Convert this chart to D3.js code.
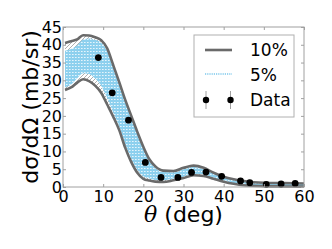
<!DOCTYPE html>
<html>
<head>
<meta charset="utf-8">
<script src="https://cdn.jsdelivr.net/npm/d3@7"></script>
<style>
  body { margin: 0; background: #fff; }
  svg { display: block; font-family: "DejaVu Sans", sans-serif; }
</style>
</head>
<body>
<div id="chart"></div>
<script>
// angle grid for the bands (deg)
const thetaGrid = [0.5, 2, 3.5, 5, 6.5, 8, 9.5, 11, 12.5, 14, 15.5, 17, 18.5, 20, 21.5, 23, 25, 27.5, 30, 32.5, 35, 37.5, 40, 42.5, 45, 50, 55, 60];

// 10% band edges
const upper10 = [40.5, 41.0, 41.5, 42.7, 42.6, 42.1, 41.3, 39.0, 34.3, 29.5, 24.5, 20.0, 15.5, 11.3, 7.8, 5.8, 4.6, 4.5, 5.4, 6.0, 5.4, 4.0, 2.9, 2.2, 1.7, 1.2, 1.1, 1.0];
const lower10 = [27.3, 28.0, 29.3, 30.3, 29.8, 28.5, 26.5, 23.2, 19.8, 16.0, 11.0, 7.0, 4.0, 2.3, 1.8, 1.5, 1.4, 1.9, 2.5, 3.3, 3.1, 2.3, 1.5, 0.9, 0.5, 0.25, 0.15, 0.1];

// 5% band edges
const upper5 = [38.3, 38.8, 39.8, 41.5, 41.8, 41.4, 40.6, 38.3, 33.7, 28.9, 24.0, 19.5, 15.0, 10.8, 7.3, 5.3, 4.2, 4.1, 5.0, 5.6, 5.0, 3.7, 2.7, 2.0, 1.5, 1.1, 1.0, 0.9];
const lower5 = [28.0, 28.8, 30.5, 32.0, 31.8, 30.5, 28.5, 25.0, 21.0, 17.0, 12.0, 8.0, 4.8, 3.0, 2.4, 2.0, 1.9, 2.4, 2.9, 3.7, 3.5, 2.6, 1.8, 1.1, 0.7, 0.35, 0.25, 0.2];

// measured points
const dataTheta = [8.8, 12.25, 16.3, 20.5, 24.4, 28.6, 32, 35.6, 39.5, 44.2, 46.5, 50.6, 54.3, 57.8];
const dataSigma = [36.4, 26.5, 18.8, 6.9, 2.7, 2.7, 4.1, 4.2, 3.0, 1.7, 1.2, 0.75, 0.85, 1.0];

const xTicks = [0, 10, 20, 30, 40, 50, 60];
const yTicks = [0, 5, 10, 15, 20, 25, 30, 35, 40, 45];
const legendLabels = ["10%", "5%", "Data"];

const width = 332, height = 249;
const margin = {top: 27, right: 28, bottom: 62, left: 63};
const plotW = width - margin.left - margin.right;
const plotH = height - margin.top - margin.bottom;

const svg = d3.select("#chart").append("svg")
    .attr("width", width)
    .attr("height", height);

// patterns
const defs = svg.append("defs");
let hatch = defs.append("pattern")
    .attr("id", "hatch")
    .attr("patternUnits", "userSpaceOnUse")
    .attr("width", 4).attr("height", 4);
hatch.append("rect").attr("width", 4).attr("height", 4).attr("fill", "#fff");
hatch.append("path")
    .attr("d", "M-1,1 l2,-2 M0,4 l4,-4 M3,5 l2,-2")
    .attr("stroke", "#9a9a9a")
    .attr("stroke-width", 0.8);

let dots = defs.append("pattern")
    .attr("id", "dots")
    .attr("patternUnits", "userSpaceOnUse")
    .attr("width", 3).attr("height", 3);
dots.append("rect").attr("width", 3).attr("height", 3).attr("fill", "#8dd0ee");
dots.append("rect").attr("x", 0).attr("y", 0).attr("width", 1.6).attr("height", 1)
    .attr("fill", "#e6f5fc");

const g = svg.append("g")
    .attr("transform", "translate(" + margin.left + "," + margin.top + ")");

const x = d3.scaleLinear().domain([0, 60]).range([0, plotW]);
const y = d3.scaleLinear().domain([0, 45]).range([plotH, 0]);

const band = thetaGrid.map((t, i) => ({
    t: t, u10: upper10[i], l10: lower10[i], u5: upper5[i], l5: lower5[i]
}));

const curve = d3.curveMonotoneX;

g.append("path")
    .datum(band)
    .attr("fill", "url(#hatch)")
    .attr("d", d3.area().curve(curve)
        .x(d => x(d.t)).y0(d => y(d.l10)).y1(d => y(d.u10)));

g.append("path")
    .datum(band)
    .attr("fill", "url(#dots)")
    .attr("d", d3.area().curve(curve)
        .x(d => x(d.t)).y0(d => y(d.l5)).y1(d => y(d.u5)));

["u10", "l10"].forEach(k => {
    g.append("path")
        .datum(band)
        .attr("fill", "none")
        .attr("stroke", "#6a6a6a")
        .attr("stroke-width", 2.6)
        .attr("stroke-linejoin", "round")
        .attr("d", d3.line().curve(curve).x(d => x(d.t)).y(d => y(d[k])));
});

g.selectAll(".pt")
    .data(dataTheta.map((t, i) => [t, dataSigma[i]]))
    .enter().append("circle")
    .attr("class", "pt")
    .attr("cx", d => x(d[0]))
    .attr("cy", d => y(d[1]))
    .attr("r", 3.4)
    .attr("fill", "#000");

// frame
g.append("rect")
    .attr("width", plotW).attr("height", plotH)
    .attr("fill", "none")
    .attr("stroke", "#a0a0a0")
    .attr("stroke-width", 1);

// axes (ticks pointing in)
let xAxis = g.append("g")
    .attr("transform", "translate(0," + plotH + ")")
    .call(d3.axisBottom(x).tickValues(xTicks).tickSizeInner(-3).tickSizeOuter(0).tickPadding(4));
let yAxis = g.append("g")
    .call(d3.axisLeft(y).tickValues(yTicks).tickSizeInner(-3).tickSizeOuter(0).tickPadding(1));
g.append("g").call(d3.axisTop(x).tickValues(xTicks).tickSizeInner(-3).tickSizeOuter(0).tickFormat(""));
g.append("g").attr("transform", "translate(" + plotW + ",0)")
    .call(d3.axisRight(y).tickValues(yTicks).tickSizeInner(-3).tickSizeOuter(0).tickFormat(""));

g.selectAll(".domain").remove();
g.selectAll(".tick line").attr("stroke", "#a0a0a0");
xAxis.selectAll("text").attr("font-size", 16).attr("fill", "#000")
    .attr("font-family", "DejaVu Sans");
yAxis.selectAll("text").attr("font-size", 16).attr("fill", "#000")
    .attr("font-family", "DejaVu Sans");

// axis titles
svg.append("text")
    .attr("x", margin.left + plotW / 2)
    .attr("y", 222)
    .attr("text-anchor", "middle")
    .attr("font-size", 22)
    .html('<tspan font-style="italic" font-family="DejaVu Serif">θ</tspan> (deg)');

svg.append("text")
    .attr("transform", "translate(38," + (margin.top + plotH / 2) + ") rotate(-90)")
    .attr("text-anchor", "middle")
    .attr("font-size", 22)
    .html('dσ/dΩ (mb/sr)');

// legend
const leg = svg.append("g").attr("transform", "translate(194,35)");
leg.append("rect")
    .attr("width", 100).attr("height", 82)
    .attr("fill", "#fff")
    .attr("stroke", "#b0b0b0")
    .attr("stroke-width", 1);

leg.append("line")
    .attr("x1", 11).attr("x2", 38).attr("y1", 15).attr("y2", 15)
    .attr("stroke", "#6a6a6a").attr("stroke-width", 2.6);
leg.append("line")
    .attr("x1", 11).attr("x2", 38).attr("y1", 39).attr("y2", 39)
    .attr("stroke", "#7cc8ec").attr("stroke-width", 1.5)
    .attr("stroke-dasharray", "1.2,1");
[12, 36.5].forEach(cx => {
    leg.append("line")
        .attr("x1", cx).attr("x2", cx).attr("y1", 56).attr("y2", 74)
        .attr("stroke", "#a0a0a0").attr("stroke-width", 1);
    leg.append("circle")
        .attr("cx", cx).attr("cy", 65).attr("r", 3.2).attr("fill", "#000");
});

leg.selectAll(".lab")
    .data(legendLabels)
    .enter().append("text")
    .attr("class", "lab")
    .attr("x", 56)
    .attr("y", (d, i) => 21 + i * 25)
    .attr("font-size", 17)
    .text(d => d);
</script>
</body>
</html>
